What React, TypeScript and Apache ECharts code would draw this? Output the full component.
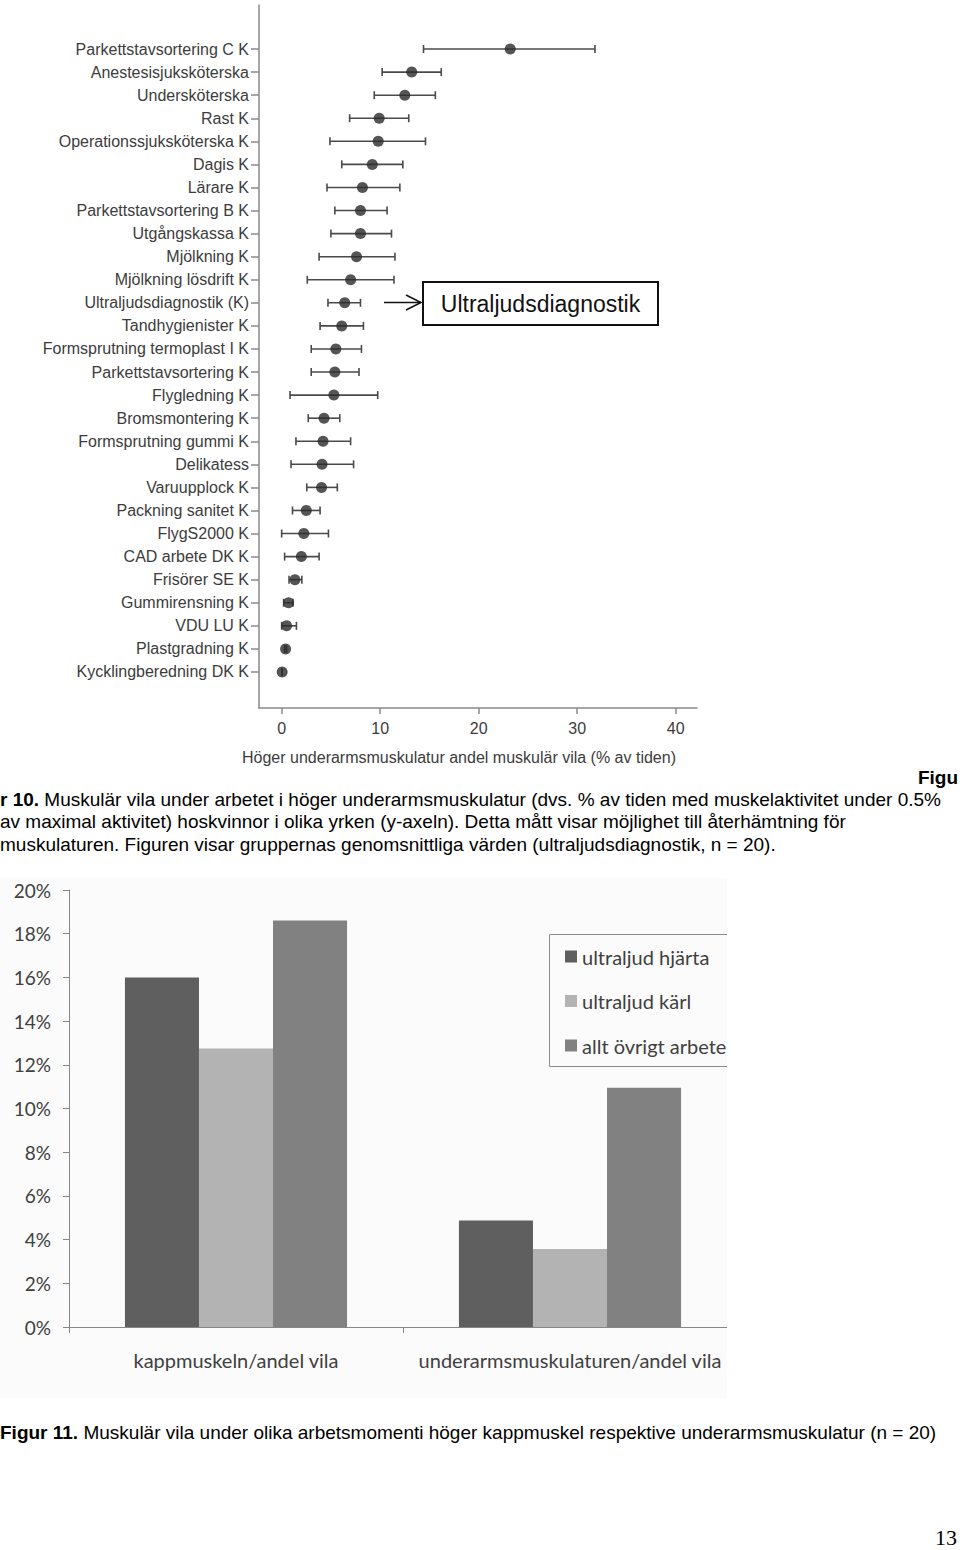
import React, { useEffect, useRef } from "react";
import * as echarts from "echarts";

// ---------- Figure 10 data (dot plot with error bars) ----------
const occupations = [
  "Parkettstavsortering C K",
  "Anestesisjuksköterska",
  "Undersköterska",
  "Rast K",
  "Operationssjuksköterska K",
  "Dagis K",
  "Lärare K",
  "Parkettstavsortering B K",
  "Utgångskassa K",
  "Mjölkning K",
  "Mjölkning lösdrift K",
  "Ultraljudsdiagnostik (K)",
  "Tandhygienister K",
  "Formsprutning termoplast I K",
  "Parkettstavsortering K",
  "Flygledning K",
  "Bromsmontering K",
  "Formsprutning gummi K",
  "Delikatess",
  "Varuupplock K",
  "Packning sanitet K",
  "FlygS2000 K",
  "CAD arbete DK K",
  "Frisörer SE K",
  "Gummirensning K",
  "VDU LU K",
  "Plastgradning K",
  "Kycklingberedning DK K",
];
const meanValues = [
  23.2, 13.2, 12.5, 9.9, 9.8, 9.2, 8.2, 8.0, 8.0, 7.6, 7.0, 6.4, 6.1, 5.5,
  5.4, 5.3, 4.3, 4.2, 4.1, 4.05, 2.5, 2.25, 2.0, 1.35, 0.7, 0.5, 0.4, 0.05,
];
const lowValues = [
  14.4, 10.2, 9.4, 6.9, 4.9, 6.1, 4.6, 5.4, 5.0, 3.8, 2.6, 4.7, 3.9, 3.0,
  3.0, 0.85, 2.7, 1.45, 0.95, 2.55, 1.1, 0.0, 0.3, 0.75, 0.2, 0.0, 0.3, 0.05,
];
const highValues = [
  31.8, 16.2, 15.6, 12.9, 14.6, 12.3, 12.0, 10.7, 11.15, 11.5, 11.4, 8.0, 8.3,
  8.1, 7.85, 9.75, 5.9, 7.0, 7.3, 5.65, 3.9, 4.75, 3.8, 2.05, 1.15, 1.5, 0.5,
  0.05,
];
const xTickValues = [0, 10, 20, 30, 40];
const xAxisTitle = "Höger underarmsmuskulatur andel muskulär vila (% av tiden)";
const annotationLabel = "Ultraljudsdiagnostik";

// ---------- Figure 11 data (grouped bars) ----------
const barCategories = ["kappmuskeln/andel vila", "underarmsmuskulaturen/andel vila"];
const barSeriesNames = ["ultraljud hjärta", "ultraljud kärl", "allt övrigt arbete"];
const hjartaValues = [0.16, 0.0487];
const karlValues = [0.1275, 0.0357];
const ovrigtValues = [0.186, 0.1095];
const barColors = ["#5f5f5f", "#b3b3b3", "#818181"];

const ARIAL = "'Liberation Sans', Arial, Helvetica, sans-serif";
const CALIBRI = "Lato, 'Open Sans', sans-serif";

function DotChart() {
  const ref = useRef<HTMLDivElement>(null);
  useEffect(() => {
    if (!ref.current) return;
    const chart = echarts.init(ref.current, null, { renderer: "svg" });
    const axisColor = "#8a8a8a";
    const xMin = -2.3;
    const xMax = 42.16;
    chart.setOption({
      animation: false,
      grid: [
        { left: 259, top: 5, width: 438, height: 703 },
        { left: 259, top: 37.5, width: 438, height: 646 },
      ],
      xAxis: [
        {
          gridIndex: 0,
          type: "value",
          min: xMin,
          max: xMax,
          axisLine: { show: true, onZero: false, lineStyle: { color: axisColor, width: 1.5 } },
          axisTick: { show: true, customValues: xTickValues, length: 6, lineStyle: { color: axisColor, width: 1.5 } },
          axisLabel: {
            customValues: xTickValues,
            fontSize: 16,
            color: "#3c3c3c",
            fontFamily: ARIAL,
            margin: 12,
          },
          splitLine: { show: false },
        },
        { gridIndex: 1, type: "value", min: xMin, max: xMax, show: false },
      ],
      yAxis: [
        {
          gridIndex: 0,
          type: "value",
          min: 0,
          max: 1,
          axisLine: { show: true, onZero: false, lineStyle: { color: axisColor, width: 1.5 } },
          axisTick: { show: false },
          axisLabel: { show: false },
          splitLine: { show: false },
        },
        {
          gridIndex: 1,
          type: "category",
          data: occupations,
          inverse: true,
          axisLine: { show: false, onZero: false },
          axisTick: { show: true, alignWithLabel: true, length: 8, lineStyle: { color: axisColor, width: 1.5 } },
          axisLabel: { fontSize: 16, color: "#3c3c3c", fontFamily: ARIAL, margin: 10 },
          splitLine: { show: false },
        },
      ],
      series: [
        {
          type: "custom",
          xAxisIndex: 1,
          yAxisIndex: 1,
          data: occupations.map((_, i) => [lowValues[i], highValues[i], i]),
          encode: { x: [0, 1], y: 2 },
          renderItem: (params: any, api: any) => {
            const yi = api.value(2);
            const p1 = api.coord([api.value(0), yi]);
            const p2 = api.coord([api.value(1), yi]);
            const h = 4;
            const style = { stroke: "#4a4a4a", lineWidth: 1.6 };
            return {
              type: "group",
              children: [
                { type: "line", shape: { x1: p1[0], y1: p1[1], x2: p2[0], y2: p2[1] }, style },
                { type: "line", shape: { x1: p1[0], y1: p1[1] - h, x2: p1[0], y2: p1[1] + h }, style },
                { type: "line", shape: { x1: p2[0], y1: p2[1] - h, x2: p2[0], y2: p2[1] + h }, style },
              ],
            };
          },
          z: 2,
        },
        {
          type: "scatter",
          xAxisIndex: 1,
          yAxisIndex: 1,
          data: meanValues.map((v, i) => [v, i]),
          symbol: "circle",
          symbolSize: 11,
          itemStyle: { color: "#2b2b2b" },
          z: 3,
        },
      ],
      graphic: [
        {
          type: "text",
          x: 459,
          y: 757,
          style: {
            text: xAxisTitle,
            fontSize: 16,
            fill: "#3c3c3c",
            fontFamily: ARIAL,
            align: "center",
            verticalAlign: "middle",
          },
        },
        {
          type: "polyline",
          shape: { points: [[384, 302.5], [421, 302.5]] },
          style: { stroke: "#111", lineWidth: 1.5, fill: "none" },
        },
        {
          type: "polyline",
          shape: { points: [[406, 295], [421, 302.5], [406, 310]] },
          style: { stroke: "#111", lineWidth: 1.5, fill: "none" },
        },
        {
          type: "rect",
          shape: { x: 423, y: 282, width: 235, height: 43 },
          style: { stroke: "#111", lineWidth: 2, fill: "#fff" },
        },
        {
          type: "text",
          x: 540.5,
          y: 304,
          style: {
            text: annotationLabel,
            fontSize: 23,
            fill: "#111",
            fontFamily: ARIAL,
            align: "center",
            verticalAlign: "middle",
          },
        },
      ],
    });
    return () => chart.dispose();
  }, []);
  return (
    <div
      ref={ref}
      style={{ position: "absolute", left: 0, top: 0, width: 960, height: 775 }}
    />
  );
}

function BarChart() {
  const ref = useRef<HTMLDivElement>(null);
  useEffect(() => {
    if (!ref.current) return;
    const chart = echarts.init(ref.current, null, { renderer: "svg" });
    const axisColor = "#878787";
    const values = [hjartaValues, karlValues, ovrigtValues];
    chart.setOption({
      animation: false,
      backgroundColor: "#fbfbfb",
      grid: { left: 69, top: 12, width: 668, height: 437 },
      legend: {
        orient: "vertical",
        left: 549.5,
        top: 56.5,
        padding: [12, 30, 11, 15.5],
        itemGap: 24.5,
        itemWidth: 12,
        itemHeight: 12,
        icon: "rect",
        borderColor: "#8c8c8c",
        borderWidth: 1,
        data: barSeriesNames,
        textStyle: { fontSize: 20, color: "#404040", fontFamily: CALIBRI },
      },
      xAxis: {
        type: "category",
        data: barCategories,
        axisLine: { show: true, lineStyle: { color: axisColor } },
        axisTick: { show: true, length: 6, lineStyle: { color: axisColor } },
        axisLabel: { interval: 0, fontSize: 20, color: "#404040", fontFamily: CALIBRI, margin: 23 },
      },
      yAxis: {
        type: "value",
        min: 0,
        max: 0.2,
        interval: 0.02,
        axisLine: { show: true, lineStyle: { color: axisColor } },
        axisTick: { show: true, length: 6, lineStyle: { color: axisColor } },
        axisLabel: {
          fontSize: 19,
          color: "#404040",
          fontFamily: CALIBRI,
          margin: 18,
          formatter: (v: number) => Math.round(v * 100) + "%",
        },
        splitLine: { show: false },
      },
      series: barSeriesNames.map((name, k) => ({
        name,
        type: "bar",
        data: values[k],
        barGap: "0%",
        barCategoryGap: "33.5%",
        itemStyle: { color: barColors[k] },
      })),
    });
    return () => chart.dispose();
  }, []);
  return (
    <div
      style={{
        position: "absolute",
        left: 0,
        top: 878,
        width: 727,
        height: 520,
        overflow: "hidden",
      }}
    >
      <div ref={ref} style={{ position: "absolute", left: 0, top: 0, width: 780, height: 520 }} />
    </div>
  );
}

const lineStyle: React.CSSProperties = {
  position: "absolute",
  left: 0,
  whiteSpace: "nowrap",
  fontFamily: ARIAL,
  fontSize: 19,
  lineHeight: "22px",
  color: "#000",
};

export default function App() {
  return (
    <div
      style={{
        position: "absolute",
        left: 0,
        top: 0,
        width: 960,
        height: 1550,
        overflow: "hidden",
        background: "#fff",
      }}
    >
      <DotChart />
      <div style={{ ...lineStyle, left: "auto", right: 2, top: 767, fontWeight: "bold" }}>Figu</div>
      <div style={{ ...lineStyle, top: 789 }}>
        <b>r 10.</b> Muskulär vila under arbetet i höger underarmsmuskulatur (dvs. % av tiden med muskelaktivitet under 0.5%
      </div>
      <div style={{ ...lineStyle, top: 811 }}>
        av maximal aktivitet) hoskvinnor i olika yrken (y-axeln). Detta mått visar möjlighet till återhämtning för
      </div>
      <div style={{ ...lineStyle, top: 834 }}>
        muskulaturen. Figuren visar gruppernas genomsnittliga värden (ultraljudsdiagnostik, n = 20).
      </div>
      <BarChart />
      <div style={{ ...lineStyle, top: 1422 }}>
        <b>Figur 11.</b> Muskulär vila under olika arbetsmomenti höger kappmuskel respektive underarmsmuskulatur (n = 20)
      </div>
      <div
        style={{
          position: "absolute",
          right: 3,
          top: 1527,
          fontFamily: "'Liberation Serif', 'DejaVu Serif', serif",
          fontSize: 22,
          lineHeight: "22px",
          color: "#000",
        }}
      >
        13
      </div>
    </div>
  );
}
